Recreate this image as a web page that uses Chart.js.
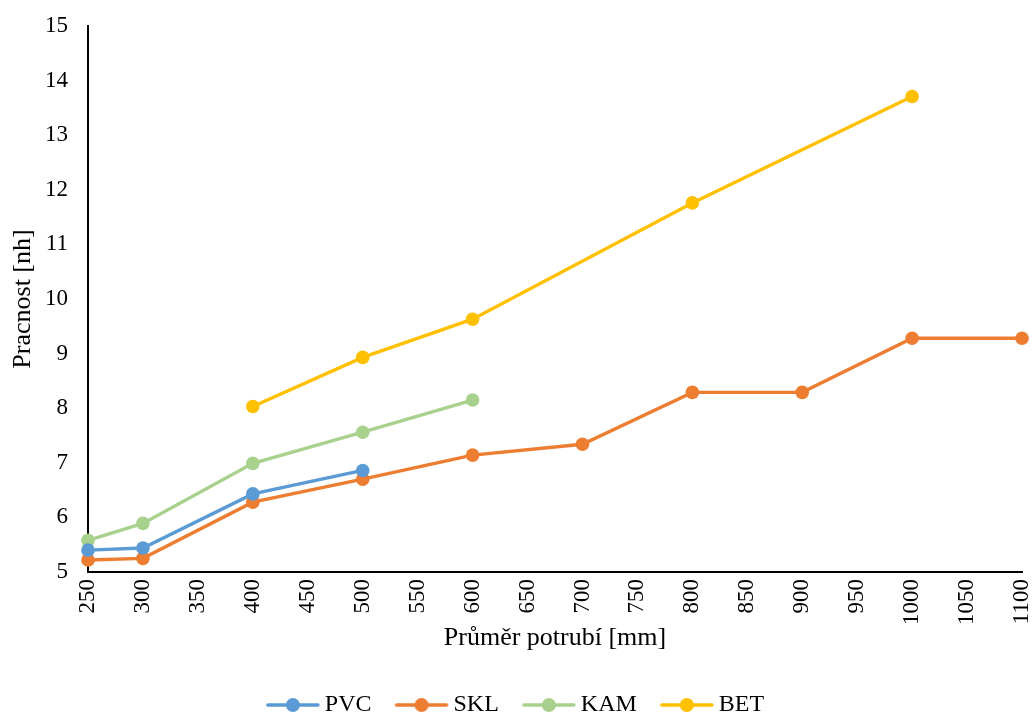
<!DOCTYPE html>
<html>
<head>
<meta charset="utf-8">
<script src="https://cdn.jsdelivr.net/npm/chart.js@4.4.1/dist/chart.umd.min.js"></script>
<style>
  html, body { margin: 0; padding: 0; background: #fff; }
  #wrap { width: 1035px; height: 718px; }
</style>
</head>
<body>
<div id="wrap"><canvas id="c" width="1035" height="718"></canvas></div>
<script>
// Pipe diameters [mm] and labour intensity [nh] per pipe material
const pvcX = [250, 300, 400, 500];
const pvcY = [5.40, 5.44, 6.43, 6.86];
const sklX = [250, 300, 400, 500, 600, 700, 800, 900, 1000, 1100];
const sklY = [5.22, 5.25, 6.28, 6.70, 7.14, 7.34, 8.29, 8.29, 9.28, 9.28];
const kamX = [250, 300, 400, 500, 600];
const kamY = [5.58, 5.89, 6.99, 7.56, 8.15];
const betX = [400, 500, 600, 800, 1000];
const betY = [8.03, 8.93, 9.63, 11.76, 13.71];

const seriesNames = ['PVC', 'SKL', 'KAM', 'BET'];
const seriesColors = ['#5B9BD5', '#ED7D31', '#A9D18E', '#FFC000'];

const xTitle = 'Průměr potrubí [mm]';
const yTitle = 'Pracnost [nh]';

function pairs(xs, ys) { return xs.map((x, i) => ({ x: x, y: ys[i] })); }

// Legend swatch: line with a marker, drawn a little wider than the
// legend box so it sits close to its label text.
const SW_BOX = 42;           // legend box width
const SW_IMG = SW_BOX + 16;  // swatch canvas width
const SW_LINE = 54;          // visible line length
function swatch(color) {
  const cv = document.createElement('canvas');
  cv.width = SW_IMG; cv.height = 16;
  const g = cv.getContext('2d');
  const x1 = SW_IMG - 1, x0 = x1 - SW_LINE;
  g.strokeStyle = color; g.lineWidth = 3.5; g.lineCap = 'round';
  g.beginPath(); g.moveTo(x0 + 2, 8); g.lineTo(x1 - 2, 8); g.stroke();
  g.fillStyle = color;
  g.beginPath(); g.arc((x0 + x1) / 2, 8, 7, 0, Math.PI * 2); g.fill();
  return cv;
}

const allData = [pairs(pvcX, pvcY), pairs(sklX, sklY), pairs(kamX, kamY), pairs(betX, betY)];

const datasets = seriesNames.map((n, i) => ({
  label: n,
  data: allData[i],
  borderColor: seriesColors[i],
  backgroundColor: seriesColors[i],
  borderWidth: 3.4,
  pointRadius: 6.8,
  pointHoverRadius: 6.8,
  pointBorderWidth: 0,
  tension: 0,
  clip: false
}));

const serif = "'Liberation Serif', 'Times New Roman', serif";

new Chart(document.getElementById('c'), {
  type: 'line',
  data: { datasets: datasets },
  options: {
    responsive: false,
    animation: false,
    devicePixelRatio: 1,
    layout: { padding: { top: 26, right: 0, left: 0, bottom: -9 } },
    plugins: {
      tooltip: { enabled: false },
      legend: {
        position: 'bottom',
        labels: {
          font: { family: serif, size: 24 },
          color: '#000',
          boxWidth: SW_BOX,
          boxHeight: 16,
          pointStyleWidth: SW_BOX,
          padding: 28,
          usePointStyle: true,
          generateLabels: (chart) => chart.data.datasets.map((d, i) => ({
            text: d.label,
            pointStyle: swatch(seriesColors[i]),
            fillStyle: seriesColors[i],
            strokeStyle: seriesColors[i],
            fontColor: '#000',
            lineWidth: 0,
            datasetIndex: i,
            hidden: false
          }))
        }
      }
    },
    scales: {
      x: {
        type: 'linear',
        min: 250,
        max: 1100,
        grid: { display: false, drawTicks: false },
        border: { display: true, color: '#000', width: 2 },
        ticks: {
          stepSize: 50,
          minRotation: 90,
          maxRotation: 90,
          autoSkip: false,
          padding: 7,
          color: '#000',
          font: { family: serif, size: 23 },
          callback: (v) => String(v)
        },
        title: {
          display: true,
          text: xTitle,
          color: '#000',
          font: { family: serif, size: 26 },
          padding: { top: 0, bottom: 11 }
        },
        afterFit: (s) => { s.height = 93; s.paddingRight = 13; }
      },
      y: {
        min: 5,
        max: 15,
        grid: { display: false, drawTicks: false },
        border: { display: true, color: '#000', width: 2 },
        ticks: {
          stepSize: 1,
          padding: 20,
          color: '#000',
          font: { family: serif, size: 23 }
        },
        title: {
          display: true,
          text: yTitle,
          color: '#000',
          font: { family: serif, size: 26 },
          padding: { top: 8, bottom: 0 }
        },
        afterFit: (s) => { s.width = 88; s.paddingTop = 0; s.paddingBottom = 0; }
      }
    }
  }
});
</script>
</body>
</html>
